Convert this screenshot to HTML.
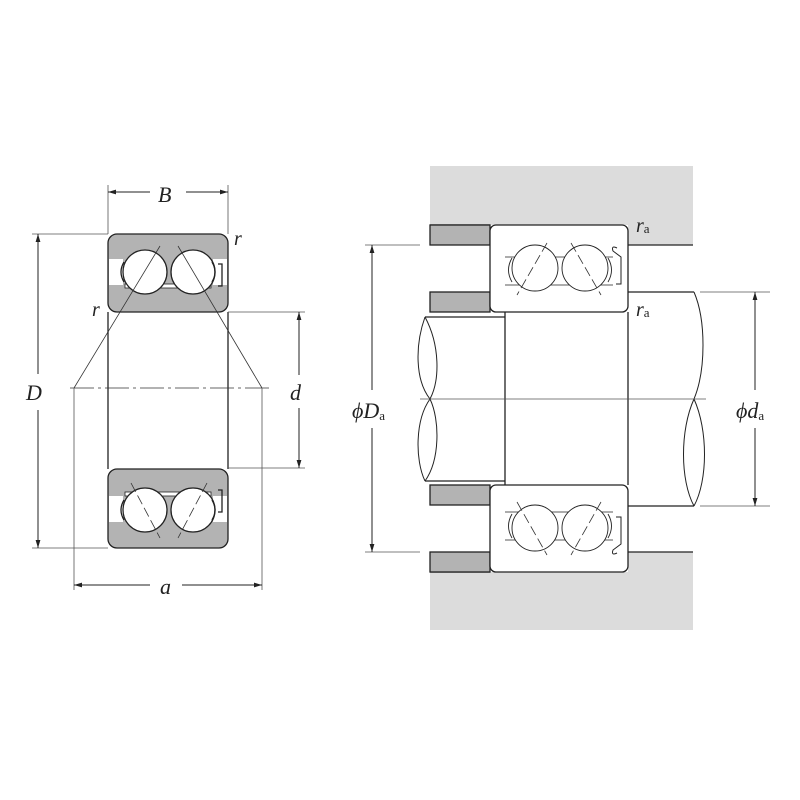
<!DOCTYPE html>
<html><head><style>body{margin:0;background:#fff}svg{display:block}text{font-family:"Liberation Serif",serif;font-style:italic;fill:#222}</style></head><body>
<svg width="800" height="800" viewBox="0 0 800 800" xmlns="http://www.w3.org/2000/svg">
<defs>
<marker id="ar" viewBox="0 0 10 10" refX="10" refY="5" markerWidth="8" markerHeight="8" orient="auto-start-reverse"><path d="M0,2 L10,5 L0,8 z" fill="#222"/></marker>
</defs>
<!-- LEFT -->
<g stroke="#222" stroke-width="1.3">
<rect x="108" y="234" width="120" height="78" rx="9" fill="#b3b3b3"/>
<rect x="108" y="469" width="120" height="79" rx="9" fill="#b3b3b3"/>
<rect x="109" y="259" width="14" height="26" fill="#fff" stroke="none"/>
<rect x="213" y="259" width="14" height="26" fill="#fff" stroke="none"/>
<rect x="109" y="496" width="14" height="26" fill="#fff" stroke="none"/>
<rect x="213" y="496" width="14" height="26" fill="#fff" stroke="none"/>
<rect x="125" y="284" width="86" height="4" fill="#fff" stroke-width="0.8"/>
<rect x="125" y="492" width="86" height="4" fill="#fff" stroke-width="0.8"/>
<circle cx="145" cy="272" r="22" fill="#fff"/><circle cx="193" cy="272" r="22" fill="#fff"/>
<circle cx="145" cy="510" r="22" fill="#fff"/><circle cx="193" cy="510" r="22" fill="#fff"/>
<path d="M124,262 q-6,10 0,20 M212,262 q6,10 0,20 M124,500 q-6,10 0,20 M212,500 q6,10 0,20" fill="none"/>
<path d="M218,264 h4 v22 h-4 M218,490 h4 v22 h-4" fill="none"/>
<line x1="108" y1="312" x2="108" y2="469"/><line x1="228" y1="312" x2="228" y2="469"/>
</g>
<g stroke="#333" stroke-width="0.8" fill="none">
<line x1="74" y1="388" x2="160" y2="246"/><line x1="262" y1="388" x2="178" y2="246"/>
<line x1="131" y1="483" x2="160" y2="538" stroke-dasharray="10,4"/><line x1="207" y1="483" x2="178" y2="538" stroke-dasharray="10,4"/>
<line x1="70" y1="388" x2="270" y2="388" stroke-dasharray="24,4,3,4"/>
</g>
<g stroke="#555" stroke-width="0.8">
<line x1="108" y1="185" x2="108" y2="234"/><line x1="228" y1="185" x2="228" y2="234"/>
<line x1="32" y1="234" x2="108" y2="234"/><line x1="32" y1="548" x2="108" y2="548"/>
<line x1="228" y1="312" x2="305" y2="312"/><line x1="228" y1="468" x2="305" y2="468"/>
<line x1="74" y1="388" x2="74" y2="590"/><line x1="262" y1="388" x2="262" y2="590"/>
</g>
<g stroke="#222" stroke-width="1" marker-start="url(#ar)" marker-end="url(#ar)">
<line x1="108" y1="192" x2="150" y2="192" marker-end="none"/><line x1="186" y1="192" x2="228" y2="192" marker-start="none"/>
<line x1="38" y1="234" x2="38" y2="374" marker-end="none"/><line x1="38" y1="410" x2="38" y2="548" marker-start="none"/>
<line x1="299" y1="312" x2="299" y2="375" marker-end="none"/><line x1="299" y1="408" x2="299" y2="468" marker-start="none"/>
<line x1="74" y1="585" x2="150" y2="585" marker-end="none"/><line x1="182" y1="585" x2="262" y2="585" marker-start="none"/>
</g>
<text x="158" y="202" font-size="22">B</text>
<text x="26" y="400" font-size="22">D</text>
<text x="290" y="400" font-size="22">d</text>
<text x="160" y="594" font-size="22">a</text>
<text x="234" y="245" font-size="20">r</text>
<text x="92" y="316" font-size="20">r</text>
<!-- RIGHT -->
<rect x="430" y="166" width="263" height="59" fill="#dcdcdc"/>
<rect x="628" y="225" width="65" height="20" fill="#dcdcdc"/>
<rect x="430" y="572" width="263" height="58" fill="#dcdcdc"/>
<rect x="628" y="552" width="65" height="20" fill="#dcdcdc"/>
<g stroke="#222" stroke-width="1.3">
<line x1="430" y1="225" x2="490" y2="225"/><line x1="628" y1="245" x2="693" y2="245"/>
<line x1="430" y1="572" x2="490" y2="572"/><line x1="628" y1="552" x2="693" y2="552"/>
<rect x="430" y="225" width="60" height="20" fill="#b3b3b3"/>
<rect x="430" y="292" width="60" height="20" fill="#b3b3b3"/>
<rect x="430" y="485" width="60" height="20" fill="#b3b3b3"/>
<rect x="430" y="552" width="60" height="20" fill="#b3b3b3"/>
<rect x="490" y="225" width="138" height="87" rx="6" fill="#fff"/>
<rect x="490" y="485" width="138" height="87" rx="6" fill="#fff"/>
<line x1="505" y1="257" x2="613" y2="257" stroke-width="0.8"/><line x1="505" y1="285" x2="613" y2="285" stroke-width="0.8"/>
<line x1="505" y1="512" x2="613" y2="512" stroke-width="0.8"/><line x1="505" y1="540" x2="613" y2="540" stroke-width="0.8"/>
<circle cx="535" cy="268" r="23" fill="#fff" stroke-width="0.9"/><circle cx="585" cy="268" r="23" fill="#fff" stroke-width="0.9"/>
<circle cx="535" cy="528" r="23" fill="#fff" stroke-width="0.9"/><circle cx="585" cy="528" r="23" fill="#fff" stroke-width="0.9"/>
<path d="M512,258 q-7,12 0,24 M608,258 q7,12 0,24 M512,514 q-7,12 0,24 M608,514 q7,12 0,24" fill="none" stroke-width="0.9"/>
<path d="M617,248 q-6,-3 -4,3 l8,6 v27 h-5 M617,553 q-6,3 -4,-3 l8,-6 v-27 h-5" fill="none" stroke-width="1"/>
<path d="M505,312 V485 M628,312 V485" fill="none"/>
<path d="M425,317 H505 M425,481 H505" fill="none"/>
<path d="M425,317 C415,345 415,380 430,399 C440,420 440,460 425,481" fill="none" stroke-width="1"/>
<path d="M425,317 C440,345 440,380 430,399 C415,420 415,460 425,481" fill="none" stroke-width="1"/>
<path d="M628,292 H694 M628,506 H694" fill="none"/>
<path d="M694,292 C706,320 706,370 694,399 C680,430 680,480 694,506" fill="none" stroke-width="1"/>
<path d="M694,399 C708,430 708,480 694,506" fill="none" stroke-width="1"/>
</g>
<g stroke="#333" stroke-width="0.8" stroke-dasharray="10,4">
<line x1="547" y1="243" x2="517" y2="295"/><line x1="571" y1="243" x2="601" y2="295"/>
<line x1="517" y1="502" x2="547" y2="555"/><line x1="601" y1="502" x2="571" y2="555"/>
</g>
<g stroke="#555" stroke-width="0.8">
<line x1="420" y1="399" x2="706" y2="399"/>
<line x1="365" y1="245" x2="420" y2="245"/><line x1="365" y1="552" x2="420" y2="552"/>
<line x1="700" y1="292" x2="770" y2="292"/><line x1="700" y1="506" x2="770" y2="506"/>
</g>
<g stroke="#222" stroke-width="1" marker-start="url(#ar)" marker-end="url(#ar)">
<line x1="372" y1="245" x2="372" y2="390" marker-end="none"/><line x1="372" y1="428" x2="372" y2="552" marker-start="none"/>
<line x1="755" y1="292" x2="755" y2="390" marker-end="none"/><line x1="755" y1="428" x2="755" y2="506" marker-start="none"/>
</g>
<text x="352" y="418" font-size="22">ϕD<tspan font-size="13" font-style="normal" dy="2">a</tspan></text>
<text x="736" y="418" font-size="22">ϕd<tspan font-size="13" font-style="normal" dy="2">a</tspan></text>
<text x="636" y="232" font-size="20">r<tspan font-size="13" font-style="normal" dy="1">a</tspan></text>
<text x="636" y="316" font-size="20">r<tspan font-size="13" font-style="normal" dy="1">a</tspan></text>
</svg>
</body></html>
